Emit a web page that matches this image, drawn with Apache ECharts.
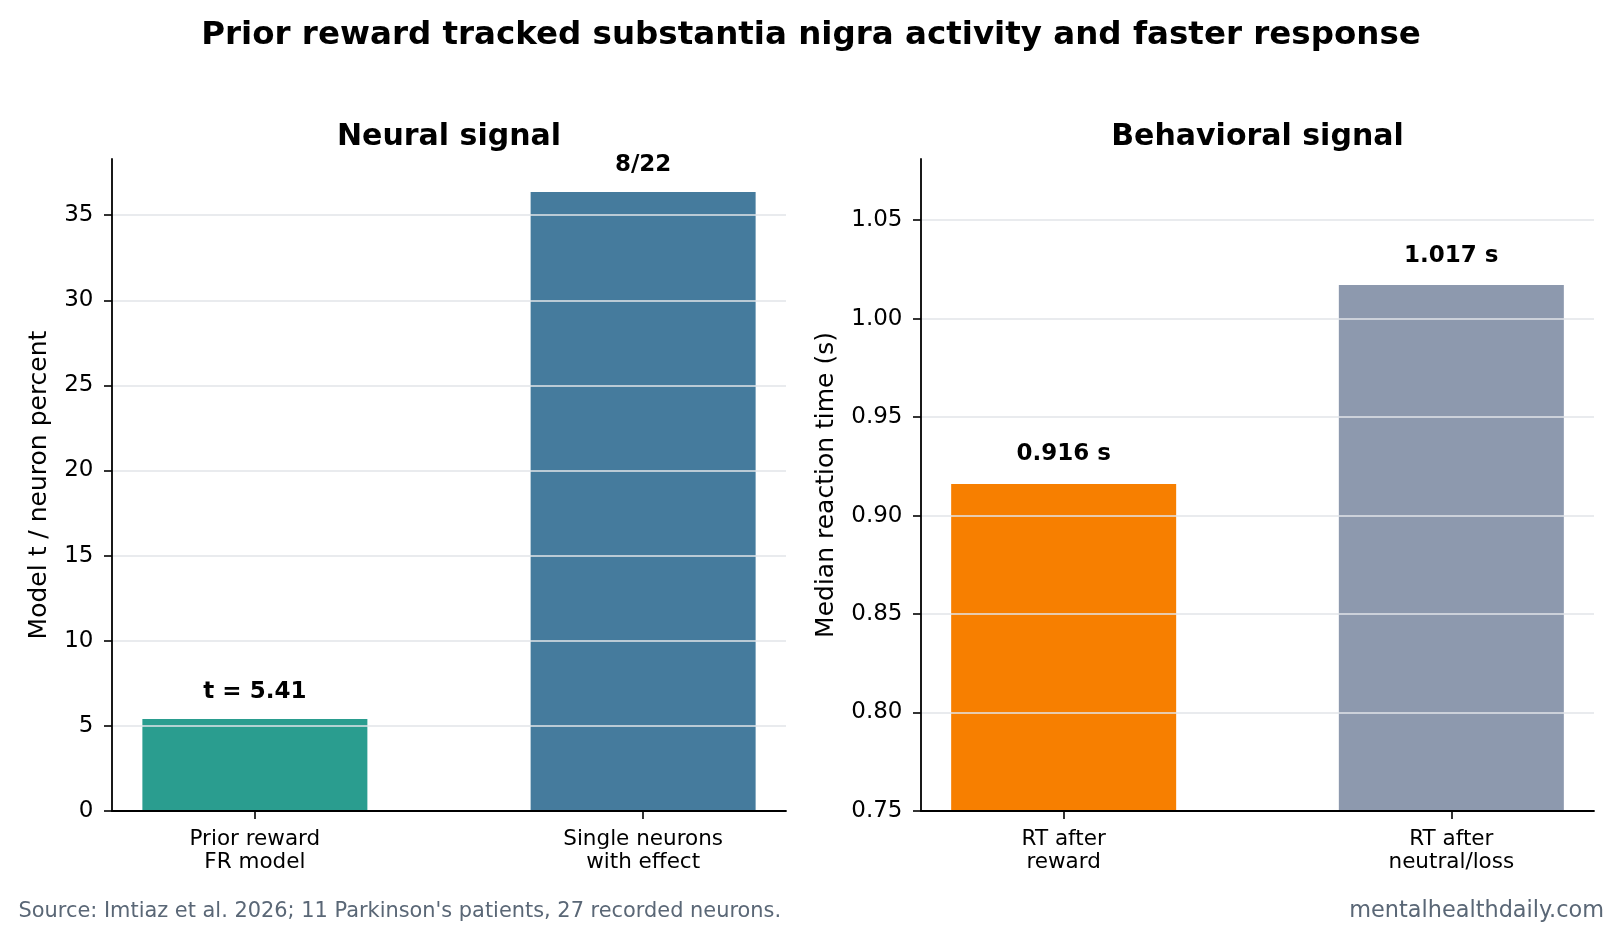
<!DOCTYPE html>
<html>
<head>
<meta charset="utf-8">
<script src="https://cdn.jsdelivr.net/npm/echarts@6/dist/echarts.min.js"></script>
<style>html,body{margin:0;padding:0;background:#fff}#c{width:1623px;height:939px}</style>
</head>
<body>
<div id="c"></div>
<script>
const leftCats = ['Prior reward\nFR model', 'Single neurons\nwith effect'];
const leftValues = [5.41, 36.36];
const leftLabels = ['t = 5.41', '8/22'];
const leftTicks = [0, 5, 10, 15, 20, 25, 30, 35];

const rightCats = ['RT after\nreward', 'RT after\nneutral/loss'];
const rightValues = [0.916, 1.017];
const rightLabels = ['0.916 s', '1.017 s'];
const rightTicks = [0.75, 0.80, 0.85, 0.90, 0.95, 1.00, 1.05];

const leftColors = ['#2a9d8f', '#457b9d'];
const rightColors = ['#f77f00', '#8d99ae'];

const FONT = 'DejaVu Sans';
const chart = echarts.init(document.getElementById('c'));

function xAxisCfg(gi, cats) {
  return {
    type: 'value', gridIndex: gi, min: -0.368, max: 1.368, z: 6,
    splitLine: { show: false },
    axisLine: { show: true, onZero: false, lineStyle: { color: '#000', width: 1.8 } },
    axisTick: { show: true, customValues: [0, 1], length: 8, lineStyle: { color: '#000', width: 1.6 } },
    axisLabel: { customValues: [0, 1], margin: 16.5, formatter: v => cats[Math.round(v)],
      fontFamily: FONT, fontSize: 21.5, color: '#000', lineHeight: 23.5 }
  };
}
function yAxisCfg(gi, min, max, ticks, fmt, name, gap) {
  return {
    type: 'value', gridIndex: gi, min: min, max: max, z: 5,
    name: name, nameLocation: 'middle', nameGap: gap, nameRotate: 90,
    nameTextStyle: { fontFamily: FONT, fontSize: 25, color: '#000' },
    axisLine: { show: true, onZero: false, lineStyle: { color: '#000', width: 1.8 } },
    axisTick: { show: true, customValues: ticks, length: 8, lineStyle: { color: '#000', width: 1.6 } },
    axisLabel: { customValues: ticks, margin: 18.5, formatter: fmt, fontFamily: FONT, fontSize: 23, color: '#000' },
    splitLine: { show: true, lineStyle: { color: '#e2e5e9', width: 1.5 } }
  };
}
function barSeries(xi, vals, colors, labels, dist) {
  return {
    type: 'bar', xAxisIndex: xi, yAxisIndex: xi, barWidth: 225,
    data: vals.map((v, i) => ({ value: [i, v], itemStyle: { color: colors[i] } })),
    label: { show: true, position: 'top', distance: dist, formatter: p => labels[p.dataIndex],
      fontFamily: FONT, fontWeight: 'bold', fontSize: 23, color: '#000' }
  };
}

chart.setOption({
  animation: false,
  backgroundColor: '#fff',
  grid: [
    { left: 112, top: 159, width: 674, height: 652 },
    { left: 921, top: 159, width: 673, height: 652 }
  ],
  xAxis: [xAxisCfg(0, leftCats), xAxisCfg(1, rightCats)],
  yAxis: [
    yAxisCfg(0, 0, 38.3, leftTicks, v => String(Math.round(v)), 'Model t / neuron percent', 60),
    yAxisCfg(1, 0.75, 1.081, rightTicks, v => v.toFixed(2), 'Median reaction time (s)', 82)
  ],
  series: [
    barSeries(0, leftValues, leftColors, leftLabels, 15),
    barSeries(1, rightValues, rightColors, rightLabels, 18)
  ],
  graphic: [
    { type: 'text', style: { x: 811, y: 36, text: 'Prior reward tracked substantia nigra activity and faster response',
      textAlign: 'center', textVerticalAlign: 'middle', fontFamily: FONT, fontWeight: 'bold', fontSize: 32.5, fill: '#000' } },
    { type: 'text', style: { x: 449, y: 137.5, text: 'Neural signal',
      textAlign: 'center', textVerticalAlign: 'middle', fontFamily: FONT, fontWeight: 'bold', fontSize: 30, fill: '#000' } },
    { type: 'text', style: { x: 1257.5, y: 137.5, text: 'Behavioral signal',
      textAlign: 'center', textVerticalAlign: 'middle', fontFamily: FONT, fontWeight: 'bold', fontSize: 30, fill: '#000' } },
    { type: 'text', style: { x: 18.5, y: 912, text: "Source: Imtiaz et al. 2026; 11 Parkinson's patients, 27 recorded neurons.",
      textAlign: 'left', textVerticalAlign: 'middle', fontFamily: FONT, fontSize: 20.9, fill: '#5a6776' } },
    { type: 'text', style: { x: 1604, y: 911, text: 'mentalhealthdaily.com',
      textAlign: 'right', textVerticalAlign: 'middle', fontFamily: FONT, fontSize: 22.4, fill: '#5a6776' } }
  ]
});
</script>
</body>
</html>
